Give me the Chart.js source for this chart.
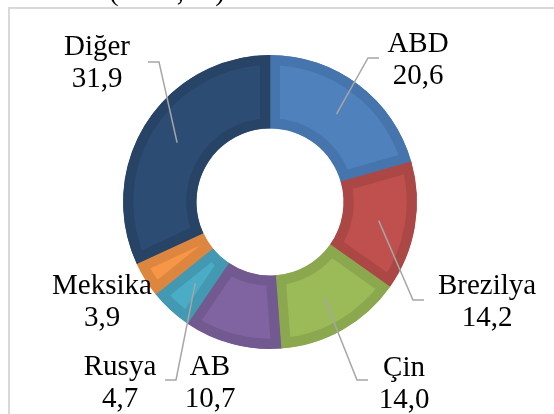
<!DOCTYPE html>
<html>
<head>
<meta charset="utf-8">
<script src="https://cdn.jsdelivr.net/npm/chart.js@4"></script>
<style>
  body { margin: 0; background: #fff; }
  #wrap { position: relative; width: 554px; height: 414px; overflow: hidden; }
  #frame { position: absolute; left: 8px; top: 7px; width: 700px; height: 600px; border: 2px solid #d9d9d9; }
  #box { position: absolute; left: 0; top: 0; width: 554px; height: 414px; }
</style>
</head>
<body>
<div id="wrap">
  <div id="frame"></div>
  <div id="box"><canvas id="pieChart"></canvas></div>
</div>
<script>
// veriler
const countries = ['ABD', 'Brezilya', 'Çin', 'AB', 'Rusya', 'Meksika', 'Diğer'];
const shares = [20.6, 14.2, 14.0, 10.7, 4.7, 3.9, 31.9];
const fillColors = ['#4F81BD', '#C0504D', '#9BBB59', '#8064A2', '#4BACC6', '#F79646', '#2C4C74'];
const edgeColors = ['#4674AD', '#AB4845', '#8BA84F', '#725A91', '#4399B1', '#DD863F', '#274467'];

// etiket yerleşimi (x: metin ortası, y: ilk satır tabanı, line: kılavuz çizgi ucu)
const labelLayout = [
  { x: 418, y: 52, line: { x: 379, y: 58, dir: -1 } },
  { x: 487, y: 294, line: { x: 424, y: 300, dir: -1 } },
  { x: 404, y: 376, line: { x: 368, y: 380, dir: -1 } },
  { x: 210, y: 375, line: null },
  { x: 120, y: 375, line: { x: 165, y: 380, dir: 1 } },
  { x: 102, y: 294, line: null },
  { x: 97, y: 55, line: { x: 148, y: 62, dir: 1 } }
];

const fmt = v => v.toFixed(1).replace('.', ',');

const labelPlugin = {
  id: 'labelPlugin',
  afterDraw(chart) {
    const ctx = chart.ctx;
    const arcs = chart.getDatasetMeta(0).data;
    ctx.save();
    // kılavuz çizgiler
    ctx.strokeStyle = '#a6a6a6';
    ctx.lineWidth = 1.5;
    arcs.forEach((arc, i) => {
      const ln = labelLayout[i].line;
      if (!ln) return;
      const mid = (arc.startAngle + arc.endAngle) / 2;
      const r = (arc.innerRadius + arc.outerRadius) / 2;
      const sx = arc.x + Math.cos(mid) * r;
      const sy = arc.y + Math.sin(mid) * r;
      ctx.beginPath();
      ctx.moveTo(sx, sy);
      ctx.lineTo(ln.x + ln.dir * 11, ln.y);
      ctx.lineTo(ln.x, ln.y);
      ctx.stroke();
    });
    // etiketler
    ctx.fillStyle = '#000';
    ctx.font = '29px "Liberation Serif", "Times New Roman", serif';
    ctx.textAlign = 'center';
    ctx.textBaseline = 'alphabetic';
    arcs.forEach((arc, i) => {
      const p = labelLayout[i];
      ctx.fillText(countries[i], p.x, p.y);
      ctx.fillText(fmt(shares[i]), p.x, p.y + 32);
    });
    // üstteki kesik başlık
    ctx.textAlign = 'left';
    ctx.fillText('(2016, %)', 109, 0);
    ctx.restore();
  }
};

new Chart(document.getElementById('pieChart'), {
  type: 'doughnut',
  data: {
    labels: countries,
    datasets: [{
      data: shares,
      backgroundColor: fillColors,
      borderColor: edgeColors,
      borderWidth: 10,
      borderAlign: 'inner',
      hoverOffset: 0
    }]
  },
  options: {
    responsive: true,
    maintainAspectRatio: false,
    animation: false,
    radius: 147,
    cutout: '50%',
    layout: { padding: { left: 0, right: 14, top: 0, bottom: 10 } },
    plugins: {
      legend: { display: false },
      tooltip: { enabled: false }
    }
  },
  plugins: [labelPlugin]
});
</script>
</body>
</html>
